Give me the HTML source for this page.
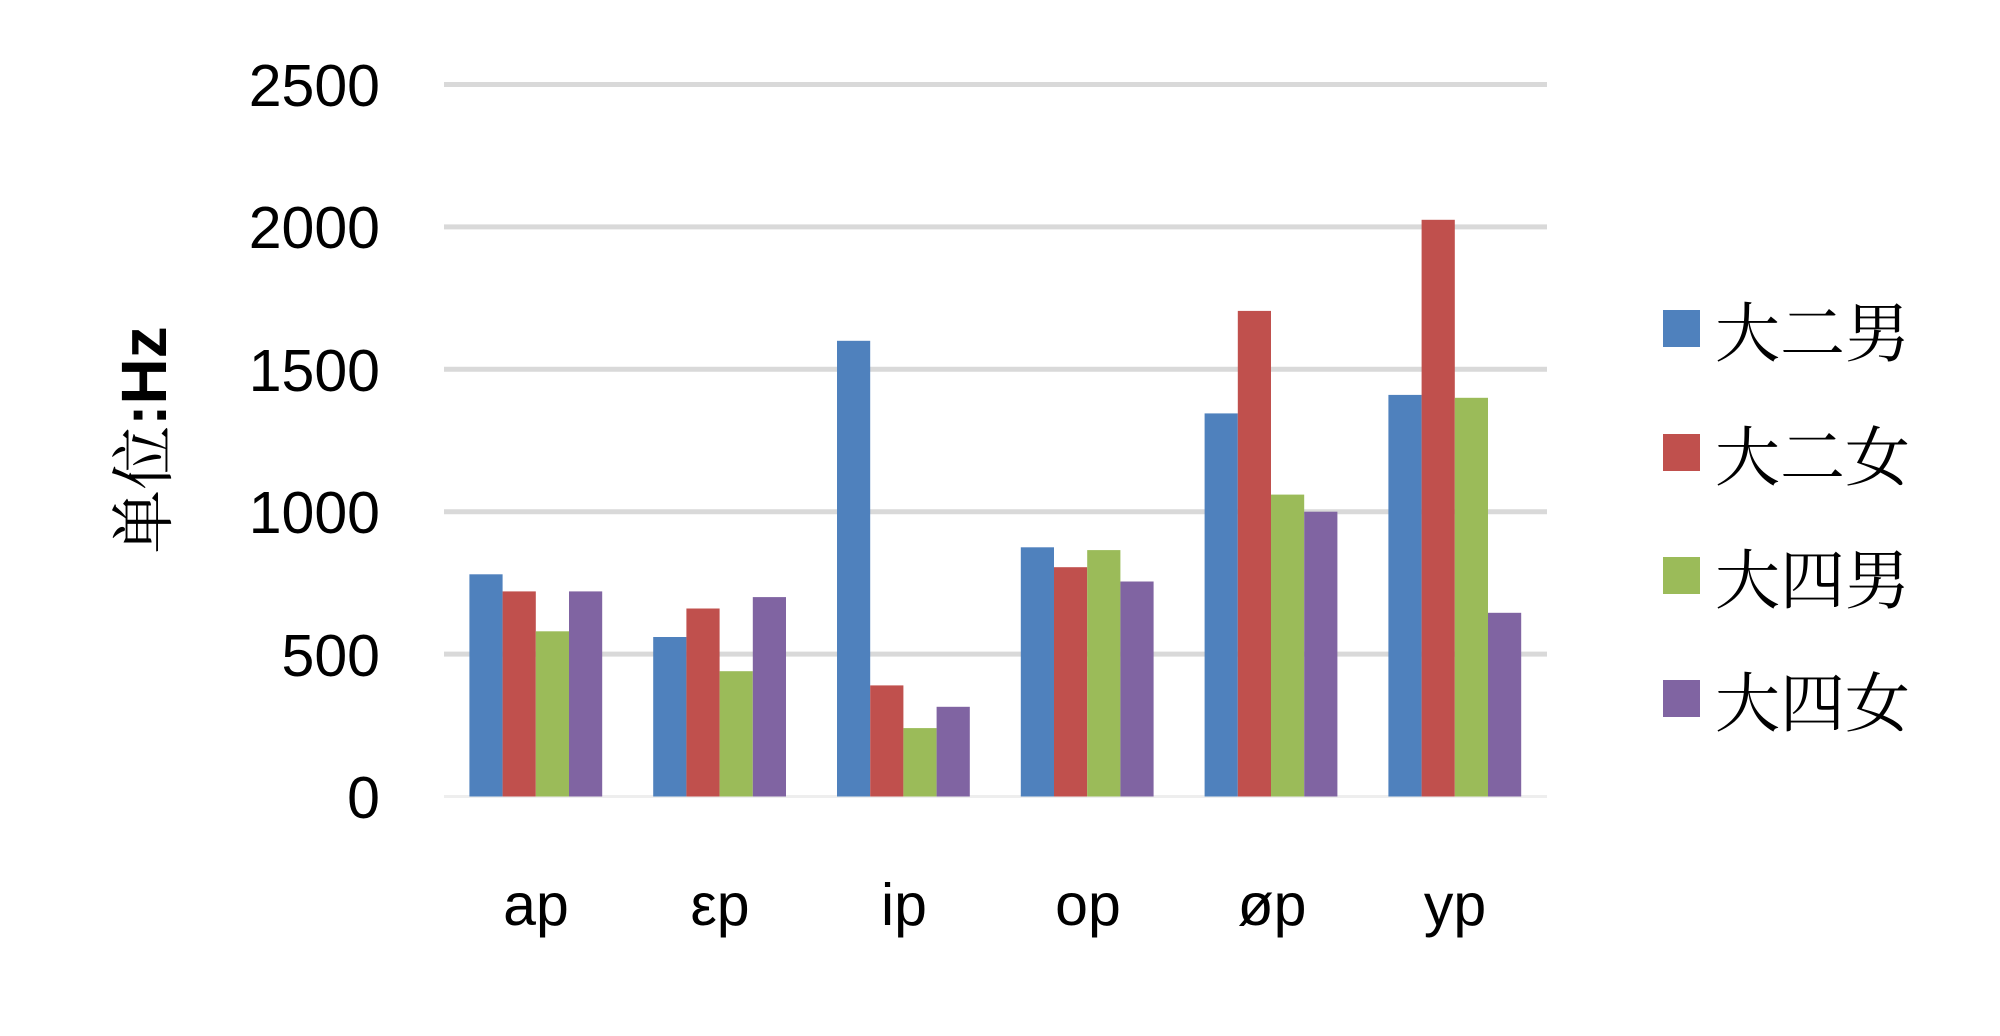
<!DOCTYPE html>
<html><head><meta charset="utf-8"><style>
html,body{margin:0;padding:0;background:#fff;}
svg{display:block;}
</style></head><body>
<svg width="2000" height="1036" viewBox="0 0 2000 1036" xmlns="http://www.w3.org/2000/svg">
<rect width="2000" height="1036" fill="#fff"/>
<g stroke="#d9d9d9" stroke-width="5">
<line x1="444" x2="1547" y1="84.5" y2="84.5"/>
<line x1="444" x2="1547" y1="226.9" y2="226.9"/>
<line x1="444" x2="1547" y1="369.3" y2="369.3"/>
<line x1="444" x2="1547" y1="511.7" y2="511.7"/>
<line x1="444" x2="1547" y1="654.1" y2="654.1"/>
</g>
<line x1="444" x2="1547" y1="796.5" y2="796.5" stroke="#eeeeee" stroke-width="3"/>
<g font-family="Liberation Sans, DejaVu Sans, sans-serif" font-size="59" text-anchor="end" fill="#000">
<text x="380" y="106">2500</text>
<text x="380" y="248">2000</text>
<text x="380" y="391">1500</text>
<text x="380" y="533">1000</text>
<text x="380" y="676">500</text>
<text x="380" y="818">0</text>
</g>
<g font-family="Liberation Sans, DejaVu Sans, sans-serif" font-size="59" text-anchor="middle" fill="#000">
<text x="536" y="925">ap</text>
<text x="720" y="925">εp</text>
<text x="904" y="925">ip</text>
<text x="1088" y="925">op</text>
<text x="1272" y="925">øp</text>
<text x="1455" y="925">yp</text>
</g>
<text transform="translate(166,440) rotate(-90)" text-anchor="middle" font-size="64" fill="#000"><tspan font-family="Liberation Serif, Noto Serif CJK SC, serif">单位</tspan><tspan font-family="Liberation Sans, sans-serif" font-weight="bold">:Hz</tspan></text>
<g font-family="Liberation Serif, Noto Serif CJK SC, serif" font-size="65" fill="#000">
<rect x="1663" y="310" width="37" height="37" fill="#4F81BD"/><text x="1715" y="356">大二男</text>
<rect x="1663" y="434" width="37" height="37" fill="#C0504D"/><text x="1715" y="480">大二女</text>
<rect x="1663" y="557" width="37" height="37" fill="#9BBB59"/><text x="1715" y="603">大四男</text>
<rect x="1663" y="680" width="37" height="37" fill="#8064A2"/><text x="1715" y="726">大四女</text>
</g>
<g>
<rect x="469.4" y="574.3" width="33.2" height="222.2" fill="#4F81BD"/>
<rect x="502.6" y="591.4" width="33.2" height="205.1" fill="#C0504D"/>
<rect x="535.8" y="631.3" width="33.2" height="165.2" fill="#9BBB59"/>
<rect x="569.0" y="591.4" width="33.2" height="205.1" fill="#8064A2"/>

<rect x="653.2" y="637.0" width="33.2" height="159.5" fill="#4F81BD"/>
<rect x="686.4" y="608.5" width="33.2" height="188.0" fill="#C0504D"/>
<rect x="719.6" y="671.2" width="33.2" height="125.3" fill="#9BBB59"/>
<rect x="752.8" y="597.1" width="33.2" height="199.4" fill="#8064A2"/>

<rect x="837.0" y="340.8" width="33.2" height="455.7" fill="#4F81BD"/>
<rect x="870.2" y="685.4" width="33.2" height="111.1" fill="#C0504D"/>
<rect x="903.4" y="728.1" width="33.2" height="68.4" fill="#9BBB59"/>
<rect x="936.6" y="706.8" width="33.2" height="89.7" fill="#8064A2"/>

<rect x="1020.8" y="547.3" width="33.2" height="249.2" fill="#4F81BD"/>
<rect x="1054.0" y="567.2" width="33.2" height="229.3" fill="#C0504D"/>
<rect x="1087.2" y="550.1" width="33.2" height="246.4" fill="#9BBB59"/>
<rect x="1120.4" y="581.5" width="33.2" height="215.0" fill="#8064A2"/>

<rect x="1204.6" y="413.4" width="33.2" height="383.1" fill="#4F81BD"/>
<rect x="1237.8" y="310.9" width="33.2" height="485.6" fill="#C0504D"/>
<rect x="1271.0" y="494.6" width="33.2" height="301.9" fill="#9BBB59"/>
<rect x="1304.2" y="511.7" width="33.2" height="284.8" fill="#8064A2"/>

<rect x="1388.4" y="394.9" width="33.2" height="401.6" fill="#4F81BD"/>
<rect x="1421.6" y="219.8" width="33.2" height="576.7" fill="#C0504D"/>
<rect x="1454.8" y="397.8" width="33.2" height="398.7" fill="#9BBB59"/>
<rect x="1488.0" y="612.8" width="33.2" height="183.7" fill="#8064A2"/>
</g>
</svg>
</body></html>
